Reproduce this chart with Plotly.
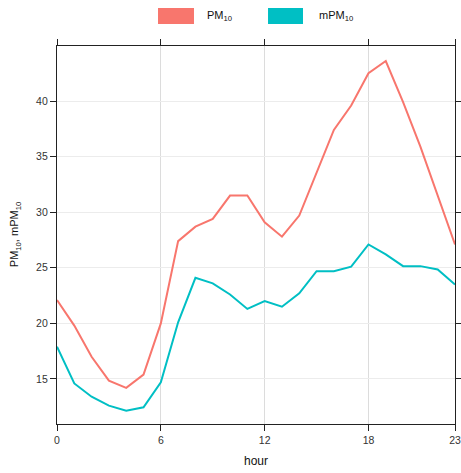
import plotly.graph_objects as go

hours = list(range(24))
pm10 = [22.1, 19.8, 17.0, 14.85, 14.2, 15.4, 20.0, 27.4, 28.7, 29.4, 31.5, 31.5,
        29.1, 27.8, 29.7, 33.6, 37.4, 39.6, 42.5, 43.6, 39.9, 35.9, 31.4, 27.1]
mpm10 = [17.9, 14.6, 13.4, 12.6, 12.15, 12.45, 14.7, 20.1, 24.1, 23.6, 22.6, 21.3,
         22.0, 21.5, 22.7, 24.7, 24.7, 25.1, 27.1, 26.2, 25.15, 25.15, 24.85, 23.5]
series_names = ["PM<sub>10</sub>", "mPM<sub>10</sub>"]
colors = ["#F8766D", "#00BFC4"]
x_ticks = [0, 6, 12, 18, 23]
y_ticks = [15, 20, 25, 30, 35, 40]

fig = go.Figure()
for vals, col, name in zip([pm10, mpm10], colors, series_names):
    fig.add_trace(go.Scatter(x=hours, y=vals, mode="lines", name=name,
                             line=dict(color=col, width=2), showlegend=False))

font_family = "Liberation Sans, Arial, sans-serif"
axis_common = dict(showline=True, linecolor="#222222", linewidth=1.2, mirror="ticks",
                   ticks="outside", ticklen=6, tickcolor="#222222", tickwidth=1,
                   zeroline=False, automargin=False,
                   tickfont=dict(size=10.5, color="#333333", family=font_family))

fig.update_xaxes(range=[0, 23], tickvals=x_ticks, gridcolor="#dcdcdc", gridwidth=1.2,
                 **axis_common)
fig.update_yaxes(range=[10.95, 44.95], tickvals=y_ticks, gridcolor="#ececec", gridwidth=1.2,
                 **axis_common)

# axis titles
fig.add_annotation(xref="paper", yref="paper", x=0.5, y=-0.099, text="hour", showarrow=False,
                   xanchor="center", yanchor="middle",
                   font=dict(size=12, color="#111111", family=font_family))
fig.add_annotation(xref="paper", yref="paper", x=-0.105, y=0.5,
                   text="PM<sub>10</sub>, mPM<sub>10</sub>", textangle=-90, showarrow=False,
                   xanchor="center", yanchor="middle",
                   font=dict(size=11, color="#111111", family=font_family))

# manual legend (rectangular keys, like lattice)
legend_keys = [(0.2538, 0.3442, 0.3719), (0.5302, 0.6181, 0.6533)]
for (x0, x1, xt), col, name in zip(legend_keys, colors, series_names):
    fig.add_shape(type="rect", xref="paper", yref="paper", x0=x0, x1=x1, y0=1.0582, y1=1.1005,
                  fillcolor=col, line=dict(width=0))
    fig.add_annotation(xref="paper", yref="paper", x=xt, y=1.0794, text=name, showarrow=False,
                       xanchor="left", yanchor="middle",
                       font=dict(size=11, color="#111111", family=font_family))

fig.update_layout(width=461, height=473, margin=dict(l=57, r=6, t=46, b=49),
                  paper_bgcolor="white", plot_bgcolor="white",
                  font=dict(family=font_family))
fig.write_html("out.html", config={"displayModeBar": False},
               post_script="document.body.style.margin='0';document.body.style.overflow='hidden';")
